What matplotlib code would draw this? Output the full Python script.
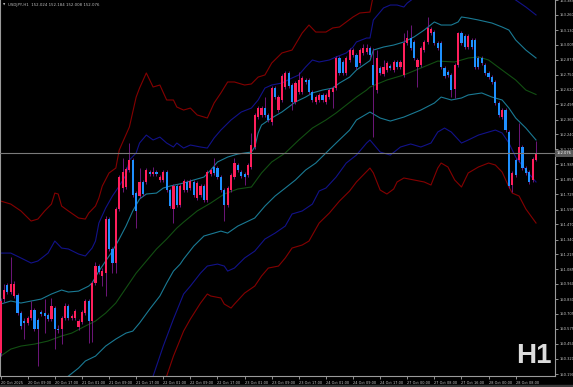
import numpy as np
import matplotlib
matplotlib.use("Agg")
import matplotlib.pyplot as plt

# USDJPY H1 candles, bar 0 = 20 Oct 01:00
opens = [
    150.370, 150.832, 150.951, 150.892, 150.857, 150.866, 150.712, 150.643, 150.626, 150.669,
    150.738, 150.652, 150.721, 150.712, 150.695, 150.661, 150.755, 150.575, 150.575, 150.669,
    150.772, 150.669, 150.669, 150.592, 150.635, 150.712, 150.814, 150.643, 150.968, 151.114,
    151.028, 151.054, 151.516, 151.259, 151.139, 151.601, 151.780, 151.789, 151.934, 152.020,
    151.738, 151.712, 151.832, 151.832, 151.917, 151.900, 151.917, 151.849, 151.849, 151.917,
    151.763, 151.601, 151.797, 151.635, 151.763, 151.832, 151.780, 151.832, 151.695, 151.721,
    151.797, 151.678, 151.900, 151.960, 151.951, 151.875, 151.763, 151.635, 151.763, 151.875,
    151.977, 151.917, 151.900, 151.892, 151.960, 152.131, 152.387, 152.404, 152.464, 152.404,
    152.345, 152.635, 152.447, 152.533, 152.644, 152.764, 152.661, 152.516, 152.601, 152.601,
    152.704, 152.704, 152.601, 152.516, 152.533, 152.576, 152.516, 152.558, 152.601, 152.635,
    152.892, 152.858, 152.764, 152.875, 152.918, 152.918, 152.849, 152.935, 152.943, 152.978,
    152.832, 152.618, 152.806, 152.755, 152.789, 152.824, 152.789, 152.858, 152.815, 152.747,
    153.020, 153.063, 153.029, 152.815, 152.832, 152.960, 153.029, 153.106, 153.114, 153.020,
    153.020, 152.806, 152.772, 152.747, 152.627, 152.832, 153.106, 153.080, 152.986, 153.046,
    153.046, 152.892, 152.892, 152.832, 152.764, 152.730, 152.687, 152.507, 152.387, 152.447,
    152.259, 151.806, 152.020, 152.020, 152.131, 151.951, 151.917, 151.849, 152.024,
]
closes = [
    150.814, 150.909, 150.892, 150.960, 150.960, 150.712, 150.601, 150.626, 150.669, 150.738,
    150.575, 150.575, 150.703, 150.686, 150.661, 150.772, 150.575, 150.567, 150.669, 150.772,
    150.669, 150.686, 150.729, 150.643, 150.721, 150.814, 150.643, 150.968, 151.114, 151.062,
    151.071, 151.516, 151.259, 151.139, 151.601, 151.875, 151.917, 151.943, 152.020, 151.721,
    151.584, 151.832, 151.729, 151.934, 151.900, 151.917, 151.900, 151.875, 151.917, 151.763,
    151.627, 151.797, 151.635, 151.797, 151.840, 151.763, 151.840, 151.721, 151.823, 151.797,
    151.678, 151.917, 151.934, 151.909, 151.875, 151.763, 151.635, 151.780, 151.892, 151.994,
    151.934, 151.883, 151.875, 151.977, 152.148, 152.404, 152.464, 152.464, 152.404, 152.362,
    152.635, 152.558, 152.558, 152.738, 152.764, 152.653, 152.516, 152.678, 152.704, 152.721,
    152.687, 152.601, 152.533, 152.558, 152.576, 152.533, 152.576, 152.618, 152.635, 152.892,
    152.764, 152.764, 152.892, 152.960, 152.960, 152.815, 152.960, 152.978, 152.978, 152.918,
    152.661, 152.892, 152.764, 152.815, 152.849, 152.806, 152.858, 152.815, 152.858, 153.020,
    153.063, 152.978, 152.892, 152.875, 152.978, 153.029, 153.149, 153.140, 153.020, 152.978,
    152.815, 152.738, 152.747, 152.618, 152.832, 153.106, 153.020, 152.986, 153.080, 152.986,
    152.815, 152.815, 152.849, 152.764, 152.730, 152.687, 152.507, 152.404, 152.447, 152.276,
    151.797, 151.909, 151.892, 152.131, 151.951, 151.909, 151.832, 152.028, 152.076,
]
highs = [
    150.840, 150.960, 150.968, 151.191, 150.986, 150.883, 150.729, 150.669, 150.686, 150.814,
    150.755, 150.669, 150.738, 150.832, 150.712, 150.840, 150.772, 150.609, 150.686, 150.797,
    150.789, 150.703, 150.746, 150.661, 150.738, 150.832, 150.832, 150.986, 151.148, 151.131,
    151.097, 151.541, 151.533, 151.276, 151.618, 151.892, 152.037, 151.960, 152.165, 152.037,
    151.755, 151.951, 151.849, 151.951, 151.934, 151.960, 151.934, 151.892, 151.934, 151.934,
    151.780, 151.815, 151.815, 151.815, 151.858, 151.849, 151.858, 151.849, 151.840, 151.815,
    151.815, 151.934, 151.951, 152.037, 151.969, 151.892, 151.780, 151.797, 151.909, 152.037,
    151.994, 151.934, 151.917, 151.994, 152.251, 152.422, 152.481, 152.481, 152.558, 152.422,
    152.653, 152.653, 152.576, 152.755, 152.781, 152.781, 152.678, 152.695, 152.772, 152.738,
    152.721, 152.721, 152.618, 152.576, 152.593, 152.593, 152.593, 152.635, 152.653, 152.909,
    152.909, 152.875, 152.909, 152.978, 152.978, 152.935, 152.978, 153.012, 153.012, 152.995,
    152.978, 152.960, 152.824, 152.875, 152.866, 152.841, 152.875, 152.875, 152.875, 153.106,
    153.131, 153.174, 153.046, 152.892, 152.995, 153.046, 153.243, 153.157, 153.131, 153.037,
    153.037, 152.824, 152.789, 152.764, 152.849, 153.114, 153.123, 153.097, 153.097, 153.063,
    153.063, 152.909, 152.909, 152.849, 152.781, 152.747, 152.704, 152.524, 152.464, 152.464,
    152.276, 151.926, 152.037, 152.336, 152.148, 151.969, 151.934, 152.045, 152.184,
]
lows = [
    150.344, 150.806, 150.874, 150.874, 150.840, 150.695, 150.575, 150.490, 150.609, 150.652,
    150.558, 150.259, 150.686, 150.541, 150.643, 150.643, 150.404, 150.541, 150.447, 150.652,
    150.652, 150.652, 150.652, 150.567, 150.618, 150.695, 150.456, 150.464, 150.951, 151.045,
    150.943, 150.857, 151.242, 151.054, 151.054, 151.584, 151.746, 151.772, 151.917, 151.704,
    151.439, 151.695, 151.712, 151.815, 151.883, 151.883, 151.883, 151.832, 151.832, 151.746,
    151.610, 151.481, 151.618, 151.618, 151.746, 151.746, 151.763, 151.704, 151.678, 151.704,
    151.661, 151.661, 151.883, 151.892, 151.858, 151.746, 151.498, 151.618, 151.746, 151.858,
    151.917, 151.866, 151.806, 151.875, 151.943, 152.114, 152.370, 152.387, 152.387, 152.345,
    152.319, 152.541, 152.430, 152.516, 152.627, 152.635, 152.447, 152.499, 152.584, 152.584,
    152.670, 152.584, 152.516, 152.499, 152.516, 152.516, 152.499, 152.541, 152.464, 152.618,
    152.747, 152.747, 152.747, 152.858, 152.901, 152.798, 152.832, 152.918, 152.926, 152.901,
    152.216, 152.593, 152.747, 152.738, 152.772, 152.789, 152.772, 152.798, 152.798, 152.730,
    153.003, 152.960, 152.875, 152.644, 152.815, 152.943, 153.012, 153.089, 153.003, 152.960,
    152.798, 152.721, 152.730, 152.558, 152.550, 152.815, 153.003, 152.969, 152.969, 152.969,
    152.798, 152.798, 152.832, 152.747, 152.712, 152.670, 152.490, 152.387, 152.370, 152.259,
    151.780, 151.746, 151.875, 152.003, 151.934, 151.892, 151.815, 151.832, 152.008,
]

# band lines (bar index, price)
mid_idx = [0, 3, 6, 10, 14, 18, 21, 25, 28, 31, 34, 37, 40, 43, 46, 49, 52, 54, 58, 62,
           66, 70, 74, 77, 80, 84, 88, 92, 96, 99, 102, 105, 108, 109, 114, 119, 124, 129, 134, 138,
           141, 144, 148, 152, 155, 158]
mid = [150.343, 150.403, 150.429, 150.446, 150.472, 150.515, 150.540, 150.600, 150.643, 150.711,
       150.797, 150.925, 151.053, 151.156, 151.259, 151.344, 151.438, 151.489, 151.584, 151.652,
       151.729, 151.772, 151.789, 151.909, 152.003, 152.080, 152.191, 152.293, 152.362, 152.422,
       152.490, 152.558, 152.618, 152.644, 152.704, 152.747, 152.806, 152.866, 152.858, 152.892,
       152.901, 152.875, 152.789, 152.704, 152.618, 152.580]

teal_up_idx = [0, 3, 6, 9, 12, 15, 18, 20, 23, 26, 27, 29, 31, 33, 35, 37, 39, 41, 43, 46,
               48, 50, 54, 57, 60, 62, 64, 67, 70, 74, 75, 76, 77, 80, 83, 85, 87, 90, 92, 95,
               98, 100, 103, 105, 109, 110, 113, 116, 119, 122, 125, 128, 130, 133, 135, 136, 138, 141, 145, 148,
               150, 152, 155, 158]
teal_up = [150.788, 150.814, 150.797, 150.814, 150.831, 150.874, 150.908, 150.891, 150.899, 150.942,
           150.968, 151.070, 151.156, 151.241, 151.344, 151.455, 151.584, 151.686, 151.729, 151.737,
           151.780, 151.797, 151.823, 151.849, 151.874, 151.934, 152.003, 152.045, 152.071, 152.088,
           152.131, 152.251, 152.319, 152.379, 152.430, 152.473, 152.516, 152.558, 152.593, 152.618,
           152.635, 152.678, 152.729, 152.789, 152.870, 152.960, 152.986, 153.003, 153.029, 153.072,
           153.131, 153.200, 153.174, 153.174, 153.200, 153.243, 153.234, 153.217, 153.191, 153.157,
           153.131, 153.046, 152.960, 152.892]

teal_lo_idx = [0, 10, 16, 20, 23, 25, 28, 31, 34, 37, 39, 41, 44, 47, 49, 51, 53, 54, 57, 60,
               63, 65, 67, 70, 75, 78, 81, 84, 87, 90, 93, 96, 99, 103, 105, 109, 112, 115, 119, 124,
               128, 130, 133, 136, 138, 142, 145, 148, 150, 152, 155, 158]
teal_lo = [149.950, 150.030, 150.100, 150.172, 150.241, 150.301, 150.343, 150.429, 150.489, 150.540,
           150.557, 150.626, 150.745, 150.857, 150.968, 151.070, 151.130, 151.173, 151.284, 151.370,
           151.395, 151.412, 151.395, 151.455, 151.524, 151.626, 151.712, 151.780, 151.849, 151.934,
           151.994, 152.080, 152.165, 152.276, 152.362, 152.430, 152.379, 152.353, 152.387, 152.447,
           152.507, 152.558, 152.533, 152.550, 152.576, 152.593, 152.558, 152.533, 152.464, 152.379,
           152.293, 152.191]

navy_up_idx = [0, 3, 6, 9, 11, 14, 16, 18, 20, 23, 25, 27, 28, 29, 31, 33, 35, 37, 38, 40,
               41, 43, 45, 47, 49, 51, 52, 54, 56, 59, 61, 63, 65, 68, 71, 74, 76, 78, 80, 83,
               86, 88, 90, 92, 94, 97, 99, 102, 104, 105, 108, 109, 110, 113, 115, 117, 119, 120, 122, 127,
               138, 147, 152, 155, 158]
navy_up = [151.224, 151.224, 151.182, 151.139, 151.156, 151.224, 151.327, 151.267, 151.259, 151.216,
           151.199, 151.267, 151.327, 151.481, 151.609, 151.712, 151.797, 151.891, 152.020, 152.080,
           152.165, 152.233, 152.191, 152.216, 152.165, 152.131, 152.165, 152.122, 152.148, 152.131,
           152.122, 152.208, 152.276, 152.362, 152.430, 152.464, 152.533, 152.635, 152.661, 152.678,
           152.721, 152.747, 152.815, 152.875, 152.858, 152.875, 152.901, 152.935, 152.986, 153.029,
           153.063, 153.063, 153.217, 153.320, 153.345, 153.345, 153.328, 153.362, 153.405, 153.520,
           153.560, 153.470, 153.388, 153.328, 153.260]

navy_lo_idx = [0, 15, 30, 40, 45, 48, 51, 54, 56, 59, 61, 64, 66, 67, 69, 72, 75, 78, 81, 84,
               86, 89, 92, 94, 96, 99, 102, 105, 108, 109, 112, 115, 118, 121, 124, 127, 129, 131, 133, 136,
               138, 141, 144, 146, 148, 150, 152, 155, 158]
navy_lo = [149.450, 149.550, 149.650, 149.950, 150.172, 150.429, 150.660, 150.874, 150.942, 151.053,
           151.113, 151.130, 151.113, 151.070, 151.096, 151.182, 151.241, 151.344, 151.395, 151.455,
           151.558, 151.584, 151.643, 151.755, 151.780, 151.874, 151.994, 152.062, 152.165, 152.191,
           152.088, 152.062, 152.131, 152.157, 152.131, 152.165, 152.259, 152.293, 152.259, 152.165,
           152.191, 152.233, 152.259, 152.276, 152.251, 152.165, 152.045, 151.934, 151.832]

red_up_idx = [0, 3, 6, 9, 11, 13, 15, 16, 17, 18, 20, 23, 25, 26, 28, 29, 30, 32, 34, 35,
              38, 40, 41, 43, 45, 47, 49, 51, 52, 54, 56, 58, 61, 63, 65, 67, 69, 72, 74, 76,
              78, 80, 83, 86, 89, 91, 93, 96, 98, 100, 102, 104, 106, 109, 110, 115, 125, 140, 150, 158]
red_up = [151.669, 151.643, 151.584, 151.498, 151.515, 151.584, 151.643, 151.737, 151.729, 151.626,
          151.584, 151.524, 151.515, 151.566, 151.626, 151.695, 151.797, 151.909, 151.951, 152.105,
          152.302, 152.558, 152.635, 152.764, 152.644, 152.661, 152.533, 152.533, 152.473, 152.447,
          152.464, 152.405, 152.379, 152.507, 152.593, 152.687, 152.687, 152.661, 152.670, 152.729,
          152.747, 152.849, 152.935, 152.960, 153.106, 153.174, 153.114, 153.114, 153.149, 153.157,
          153.200, 153.243, 153.277, 153.285, 153.430, 153.560, 153.600, 153.650, 153.550, 153.500]

red_lo_idx = [0, 20, 35, 45, 49, 51, 54, 56, 59, 61, 62, 65, 66, 68, 69, 72, 75, 77, 79, 82,
              84, 86, 89, 91, 94, 97, 100, 103, 105, 109, 110, 112, 114, 116, 117, 119, 122, 125, 127, 129,
              130, 132, 134, 136, 138, 141, 144, 146, 148, 150, 151, 153, 155, 158]
red_lo = [149.000, 149.100, 149.300, 149.850, 150.172, 150.343, 150.557, 150.660, 150.797, 150.874,
          150.857, 150.840, 150.788, 150.754, 150.788, 150.882, 150.942, 151.028, 151.096, 151.113,
          151.182, 151.267, 151.293, 151.327, 151.481, 151.566, 151.669, 151.755, 151.832, 151.951,
          151.909, 151.763, 151.729, 151.772, 151.832, 151.866, 151.849, 151.832, 151.806, 151.951,
          151.994, 151.960, 151.849, 151.789, 151.909, 151.960, 151.994, 151.977, 151.917, 151.789,
          151.737, 151.712, 151.601, 151.481]

price_ticks = [153.385, 153.260, 153.130, 153.005, 152.875, 152.750, 152.620, 152.495, 152.365,
               152.240, 152.110, 151.985, 151.855, 151.725, 151.595, 151.470, 151.340, 151.215,
               151.085, 150.960, 150.830, 150.705, 150.575, 150.450, 150.320, 150.190]
time_labels = ["20 Oct 2025", "20 Oct 09:00", "20 Oct 17:00", "21 Oct 01:00", "21 Oct 09:00",
               "21 Oct 17:00", "22 Oct 01:00", "22 Oct 09:00", "22 Oct 17:00", "23 Oct 01:00",
               "23 Oct 09:00", "23 Oct 17:00", "24 Oct 01:00", "24 Oct 09:00", "24 Oct 17:00",
               "27 Oct 00:00", "27 Oct 08:00", "27 Oct 16:00", "28 Oct 00:00", "28 Oct 08:00"]
time_label_bars = list(range(0, 160, 8))


def main():
    fig = plt.figure(figsize=(5.73, 3.87), dpi=100, facecolor="black")
    fig.patches.append(plt.Rectangle((0, 0), 1, 2 / 387, transform=fig.transFigure,
                                     color="#3a3a3a", zorder=0))
    ax = fig.add_axes([0, 11 / 387, 555 / 573, 376 / 387], facecolor="black")

    o = np.array(opens)
    c = np.array(closes)
    h = np.array(highs)
    l = np.array(lows)
    x = np.arange(len(o))
    up = c >= o

    # bands
    ax.plot(red_up_idx, red_up, color="#850000", lw=0.8, zorder=2)
    ax.plot(red_lo_idx, red_lo, color="#850000", lw=0.8, zorder=2)
    ax.plot(navy_up_idx, navy_up, color="#12128a", lw=0.8, zorder=2)
    ax.plot(navy_lo_idx, navy_lo, color="#12128a", lw=0.8, zorder=2)
    ax.plot(teal_up_idx, teal_up, color="#1a7a94", lw=0.8, zorder=2)
    ax.plot(teal_lo_idx, teal_lo, color="#1a7a94", lw=0.8, zorder=2)
    ax.plot(mid_idx, mid, color="#124f12", lw=0.8, zorder=2)

    # candles
    ax.vlines(x, l, h, color="#7f1a8e", lw=0.6, zorder=3)
    body_low = np.minimum(o, c)
    body_h = np.maximum(np.abs(c - o), 0.004)
    ax.bar(x[up], body_h[up], bottom=body_low[up], width=0.64, color="#ff1f5c",
           linewidth=0, zorder=4)
    ax.bar(x[~up], body_h[~up], bottom=body_low[~up], width=0.64, color="#1e90ff",
           linewidth=0, zorder=4)

    # bid line
    ax.axhline(closes[-1], color="#7a7a7a", lw=0.8, zorder=5)

    ax.set_xlim(-0.18, 163.6)
    ax.set_ylim(150.173, 153.388)

    ax.yaxis.tick_right()
    ax.set_yticks(price_ticks)
    ax.set_yticklabels(["%.3f" % v for v in price_ticks])
    ax.set_xticks(time_label_bars)
    ax.set_xticklabels(time_labels)
    for lab in ax.get_xticklabels():
        lab.set_ha("left")
    ax.tick_params(axis="y", colors="#c8c8c8", labelsize=2.6, length=2, width=0.5, pad=1)
    ax.tick_params(axis="x", colors="#c8c8c8", labelsize=2.5, length=2, width=0.5, pad=1.5)

    for side in ["left", "right", "bottom"]:
        ax.spines[side].set_color("#9a9a9a")
        ax.spines[side].set_linewidth(0.8)
    ax.spines["top"].set_visible(False)

    ax.text(1.003, closes[-1], "%.3f" % closes[-1], transform=ax.get_yaxis_transform(),
            fontsize=2.6, color="white", va="center", ha="left", clip_on=False, zorder=6,
            bbox=dict(boxstyle="square,pad=0.35", fc="#5a5a5a", ec="none"))

    fig.text(3 / 573, 1 - 5 / 387, "\u25bc", fontsize=2.2, color="#c0c0c0", va="center")
    fig.text(8 / 573, 1 - 5 / 387,
             "USDJPY,H1  %.3f %.3f %.3f %.3f" % (opens[-1], highs[-1], lows[-1], closes[-1]),
             fontsize=2.8, color="#c0c0c0", va="center")

    ax.text(552 / 555, 13 / 376, "H1", transform=ax.transAxes, ha="right", va="baseline",
            fontsize=20, fontweight="bold", family="Liberation Sans", color="#dcdcdc", zorder=7)

    fig.savefig("out.png", dpi=100, facecolor="black")


if __name__ == "__main__":
    main()
